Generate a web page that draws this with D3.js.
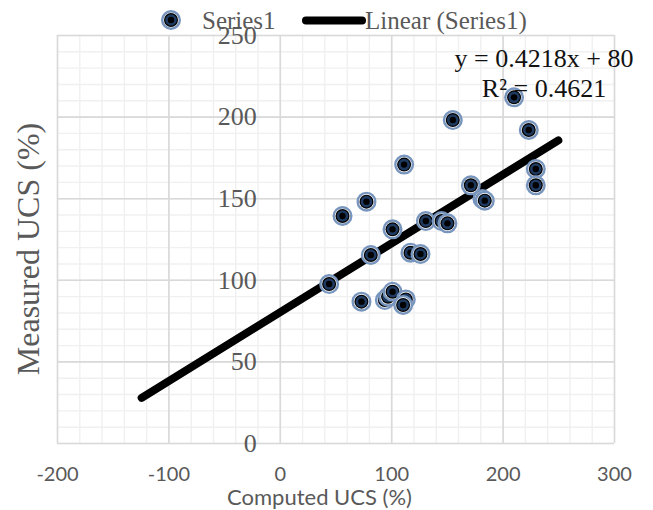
<!DOCTYPE html>
<html>
<head>
<meta charset="utf-8">
<script src="https://cdn.jsdelivr.net/npm/d3@7/dist/d3.min.js"></script>
<style>
  html, body { margin: 0; padding: 0; background: #fff; }
  svg { display: block; }
</style>
</head>
<body>
<svg id="chart" width="653" height="510"></svg>
<script>
// Computed vs measured UCS (%)
const computedUCS = [155.3, 111.6, 77.8, 171.5, 210.3, 223.5, 229.8, 229.8, 181.9, 184.0,
                     56.3, 101.2, 81.7, 117.3, 126.3, 131.1, 145.2, 150.5, 44.3, 73.3,
                     94.3, 97.2, 101.2, 113.1, 110.7];
const measuredUCS = [197.9, 170.6, 147.9, 157.9, 211.8, 191.8, 167.9, 157.9, 149.5, 148.5,
                     139.1, 130.9, 115.2, 116.6, 115.8, 136.0, 136.0, 134.6, 97.4, 86.6,
                     87.6, 89.6, 92.7, 88.0, 84.6];

// Linear trend: y = 0.4218x + 80, drawn over its forecast range
const trendSlope = 0.4218;
const trendIntercept = 80;
const trendRange = [-124, 250];
const equationLines = ["y = 0.4218x + 80", "R² = 0.4621"];

const xTicks = [-200, -100, 0, 100, 200, 300];
const yTicks = [0, 50, 100, 150, 200, 250];
const xMinorStep = 20;
const yMinorStep = 10;

const seriesName = "Series1";
const trendName = "Linear (Series1)";
const xTitle = "Computed UCS (%)";
const yTitle = "Measured UCS (%)";

const svg = d3.select("#chart");
const plot = { left: 57, right: 614, top: 35, bottom: 443 };

const x = d3.scaleLinear().domain([-200, 300]).range([plot.left, plot.right]);
const y = d3.scaleLinear().domain([0, 250]).range([plot.bottom, plot.top]);

const serif = "'Liberation Serif', 'Times New Roman', serif";
const sans = "Lato, 'Open Sans', sans-serif";
const grey = "#595959";
const plainNumber = d => String(d);

// Gridlines: minor first, major on top
const grid = svg.append("g");
grid.append("g")
  .attr("transform", `translate(0,${plot.bottom})`)
  .call(d3.axisBottom(x).tickValues(d3.range(-200, 300 + 1, xMinorStep))
        .tickSize(-(plot.bottom - plot.top)).tickFormat(""))
  .call(g => g.select(".domain").remove())
  .call(g => g.selectAll("line").attr("stroke", "#f0f0f0").attr("stroke-width", 1.4));
grid.append("g")
  .attr("transform", `translate(${plot.left},0)`)
  .call(d3.axisLeft(y).tickValues(d3.range(0, 250 + 1, yMinorStep))
        .tickSize(-(plot.right - plot.left)).tickFormat(""))
  .call(g => g.select(".domain").remove())
  .call(g => g.selectAll("line").attr("stroke", "#f0f0f0").attr("stroke-width", 1.4));
grid.append("g")
  .attr("transform", `translate(0,${plot.bottom})`)
  .call(d3.axisBottom(x).tickValues(xTicks)
        .tickSize(-(plot.bottom - plot.top)).tickFormat(""))
  .call(g => g.select(".domain").remove())
  .call(g => g.selectAll("line").attr("stroke", "#d9d9d9").attr("stroke-width", 1.6));
grid.append("g")
  .attr("transform", `translate(${plot.left},0)`)
  .call(d3.axisLeft(y).tickValues(yTicks)
        .tickSize(-(plot.right - plot.left)).tickFormat(""))
  .call(g => g.select(".domain").remove())
  .call(g => g.selectAll("line").attr("stroke", "#d9d9d9").attr("stroke-width", 1.6));

// X tick labels along the bottom
const xAxis = svg.append("g")
  .attr("transform", `translate(0,${plot.bottom})`)
  .call(d3.axisBottom(x).tickValues(xTicks).tickSize(0).tickPadding(0).tickFormat(plainNumber));
xAxis.select(".domain").remove();
xAxis.selectAll("text")
  .attr("dy", null).attr("y", 38)
  .attr("font-family", sans).attr("font-size", 20).attr("fill", grey);

// Y tick labels sit beside the vertical axis at x = 0
const yAxis = svg.append("g")
  .attr("transform", `translate(${x(0)},0)`)
  .call(d3.axisLeft(y).tickValues(yTicks).tickSize(0).tickPadding(23).tickFormat(plainNumber));
yAxis.select(".domain").remove();
yAxis.selectAll("text")
  .attr("font-family", serif).attr("font-size", 26).attr("fill", grey);

// Trendline
const trend = trendRange.map(v => [v, trendSlope * v + trendIntercept]);
svg.append("path")
  .datum(trend)
  .attr("d", d3.line().x(d => x(d[0])).y(d => y(d[1])))
  .attr("stroke", "#000").attr("stroke-width", 8)
  .attr("stroke-linecap", "round").attr("fill", "none");

// Marker: blue glow ring, white gap, dark navy dot with black core
function marker(sel) {
  sel.append("circle").attr("r", 8.8).attr("fill", "#fff")
    .attr("stroke", "#7895bd").attr("stroke-width", 2.4);
  sel.append("circle").attr("r", 7).attr("fill", "#000");
  sel.append("circle").attr("r", 5.8).attr("fill", "#1f3a60");
  sel.append("circle").attr("r", 3.2).attr("fill", "#000");
}

const points = computedUCS.map((c, i) => ({ c, m: measuredUCS[i] }));
svg.append("g").selectAll("g")
  .data(points)
  .join("g")
  .attr("transform", d => `translate(${x(d.c)},${y(d.m)})`)
  .call(marker);

// Equation and R²
const eq = svg.append("text")
  .attr("font-family", serif).attr("font-size", 26).attr("fill", "#111")
  .attr("text-anchor", "middle");
eq.selectAll("tspan")
  .data(equationLines)
  .join("tspan")
  .attr("x", 544)
  .attr("y", (d, i) => 67 + i * 30)
  .text(d => d);

// Axis titles
svg.append("text")
  .attr("x", (plot.left + plot.right) / 2 - 16).attr("y", 505)
  .attr("text-anchor", "middle")
  .attr("font-family", sans).attr("font-size", 22).attr("fill", grey)
  .text(xTitle);
svg.append("text")
  .attr("transform", `translate(39,${249}) rotate(-90)`)
  .attr("text-anchor", "middle")
  .attr("font-family", serif).attr("font-size", 32).attr("fill", grey)
  .text(yTitle);

// Legend
const legend = svg.append("g");
legend.append("g").attr("transform", "translate(171,20)").call(marker);
legend.append("text").attr("x", 202).attr("y", 29)
  .attr("font-family", serif).attr("font-size", 25).attr("fill", grey)
  .text(seriesName);
legend.append("line")
  .attr("x1", 306).attr("x2", 362).attr("y1", 20.5).attr("y2", 20.5)
  .attr("stroke", "#000").attr("stroke-width", 8).attr("stroke-linecap", "round");
legend.append("text").attr("x", 365).attr("y", 29)
  .attr("font-family", serif).attr("font-size", 25).attr("fill", grey)
  .text(trendName);
</script>
</body>
</html>
